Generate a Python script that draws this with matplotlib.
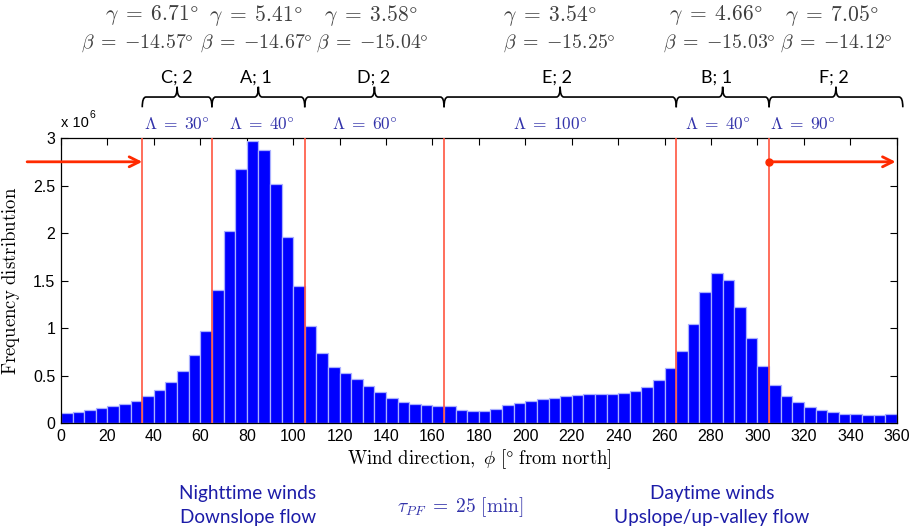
import numpy as np
import matplotlib
matplotlib.use("Agg")
import matplotlib.pyplot as plt
from matplotlib.path import Path
from matplotlib.patches import PathPatch
import matplotlib.transforms as mtransforms

plt.rcParams['mathtext.fontset'] = 'cm'

# ---------------- data ----------------
bin_width = 5
bin_left = np.arange(0, 360, bin_width)
freq_millions = [
    0.105, 0.116, 0.140, 0.155, 0.180, 0.204, 0.236, 0.288, 0.348, 0.436,
    0.549, 0.718, 0.971, 1.403, 2.019, 2.673, 2.965, 2.874, 2.515, 1.959,
    1.439, 1.020, 0.735, 0.594, 0.531, 0.468, 0.394, 0.327, 0.267, 0.222,
    0.204, 0.190, 0.180, 0.174, 0.141, 0.127, 0.127, 0.151, 0.186, 0.215,
    0.236, 0.250, 0.267, 0.285, 0.299, 0.310, 0.310, 0.310, 0.317, 0.338,
    0.380, 0.454, 0.580, 0.763, 1.038, 1.375, 1.576, 1.505, 1.224, 0.897,
    0.598, 0.397, 0.281, 0.222, 0.169, 0.137, 0.113, 0.098, 0.095, 0.084,
    0.084, 0.095,
]
boundaries = [35, 65, 105, 165, 265, 305]
sector_names = ["C; 2", "A; 1", "D; 2", "E; 2", "B; 1", "F; 2"]
sector_lambda = [30, 40, 60, 100, 40, 90]
sector_gamma = ["6.71", "5.41", "3.58", "3.54", "4.66", "7.05"]
sector_beta = ["14.57", "14.67", "15.04", "15.25", "15.03", "14.12"]  # negative values
brace_ends = [(35, 65), (65, 105), (105, 165), (165, 265), (265, 305), (305, 362.6)]
lambda_x = [50, 86.5, 131, 210.5, 283, 319.5]
gamma_x = [39, 84, 133.5, 210.5, 282, 332]
beta_x = [33, 84, 134, 214.5, 283.5, 334]
name_x = [50, 84, 134.5, 213.5, 282.5, 333]
arrow_y = 2.75

fig = plt.figure(figsize=(9.16, 5.31), dpi=100)
ax = fig.add_axes([0.0666, 0.2034, 0.9124, 0.5366])

ax.bar(bin_left, freq_millions, width=bin_width, align='edge',
       color='#0000ff', edgecolor='#aab0ff', linewidth=0.9, zorder=2)

for b in boundaries:
    ax.axvline(b, color='#ff5540', lw=1.2, zorder=3)

ax.set_xlim(0, 360)
ax.set_ylim(0, 3)
ax.set_xticks(np.arange(0, 361, 20))
ax.set_yticks([0, 0.5, 1, 1.5, 2, 2.5, 3])
ax.set_yticklabels(["0", "0.5", "1", "1.5", "2", "2.5", "3"])
ax.tick_params(direction='in', top=True, right=True, length=5, width=0.8,
               labelsize=11.5, pad=4)
for lab in ax.get_xticklabels() + ax.get_yticklabels():
    lab.set_fontfamily('Liberation Sans')
for s in ax.spines.values():
    s.set_linewidth(0.9)

ax.set_xlabel(r'$\mathrm{Wind\ direction,}\ \phi\ [\degree\ \mathrm{from\ north}]$',
              fontsize=13.5, labelpad=3)
ax.set_ylabel(r'$\mathrm{Frequency\ distribution}$', fontsize=13.5, labelpad=8)

# offset text
ax.text(0.0, 1.03, "x 10", transform=ax.transAxes, fontsize=10.5,
        family='Liberation Sans', ha='left', va='bottom')
ax.text(0.0335, 1.063, "6", transform=ax.transAxes, fontsize=7.5,
        family='Liberation Sans', ha='left', va='bottom')

# arrows
ax.annotate("", xy=(boundaries[0], arrow_y), xytext=(-14.6, arrow_y),
            arrowprops=dict(arrowstyle='->', color='#ff2a00', lw=2,
                            mutation_scale=18, shrinkA=0, shrinkB=0),
            annotation_clip=False, zorder=5)
ax.annotate("", xy=(359.5, arrow_y), xytext=(boundaries[-1], arrow_y),
            arrowprops=dict(arrowstyle='->', color='#ff2a00', lw=2,
                            mutation_scale=18, shrinkA=0, shrinkB=0),
            annotation_clip=False, zorder=5)
ax.plot([boundaries[-1]], [arrow_y], 'o', color='#ff2a00', ms=5, zorder=6,
        clip_on=False)

# braces
trans = mtransforms.blended_transform_factory(ax.transData, ax.transAxes)
y0, d, r = 1.144, 0.036, 1.6
for (a, b) in brace_ends:
    m = (a + b) / 2
    verts = [(a, y0 - d), (a, y0), (a + r, y0),
             (m - r, y0), (m, y0), (m, y0 + d),
             (m, y0), (m + r, y0),
             (b - r, y0), (b, y0), (b, y0 - d)]
    codes = [Path.MOVETO, Path.CURVE3, Path.CURVE3,
             Path.LINETO, Path.CURVE3, Path.CURVE3,
             Path.CURVE3, Path.CURVE3,
             Path.LINETO, Path.CURVE3, Path.CURVE3]
    ax.add_patch(PathPatch(Path(verts, codes), transform=trans, fill=False,
                           lw=1.2, color='black', clip_on=False))

for i in range(len(sector_names)):
    ax.text(lambda_x[i], 1.05, r'$\Lambda\;=\;%d\degree$' % sector_lambda[i],
            transform=trans, ha='center', va='center', fontsize=12.5,
            color='#3333aa')
    ax.text(name_x[i], 1.211, sector_names[i], transform=trans, ha='center',
            va='center', fontsize=13, family='Lato', color='black')
    ax.text(beta_x[i], 1.333, r'$\beta\;=\;{-}%s\degree$' % sector_beta[i],
            transform=trans, ha='center', va='center', fontsize=14.3,
            color='#404040')
    ax.text(gamma_x[i], 1.431, r'$\gamma\;=\;%s\degree$' % sector_gamma[i],
            transform=trans, ha='center', va='center', fontsize=15.5,
            color='#404040')

# bottom annotations
fc = '#1c1ca8'
fig.text(248 / 916, 1 - 494 / 531, "Nighttime winds", ha='center', va='center',
         fontsize=13.7, family='Lato', color=fc)
fig.text(248 / 916, 1 - 518 / 531, "Downslope flow", ha='center', va='center',
         fontsize=13.7, family='Lato', color=fc)
fig.text(712 / 916, 1 - 494 / 531, "Daytime winds", ha='center', va='center',
         fontsize=13.7, family='Lato', color=fc)
fig.text(712 / 916, 1 - 518 / 531, "Upslope/up-valley flow", ha='center',
         va='center', fontsize=13.7, family='Lato', color=fc)
fig.text(460 / 916, 1 - 507 / 531, r'$\tau_{PF}\;=\;25\ [\mathrm{min}]$',
         ha='center', va='center', fontsize=14, color='#3333aa')

fig.savefig("out.png", dpi=100)
